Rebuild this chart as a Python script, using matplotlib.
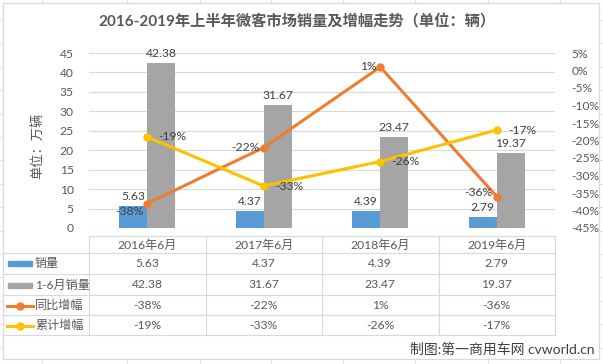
import matplotlib
matplotlib.use('Agg')
import matplotlib.pyplot as plt
from matplotlib.patches import Rectangle
from matplotlib.ticker import FuncFormatter

# ---------------- data ----------------
categories = ['2016年6月', '2017年6月', '2018年6月', '2019年6月']
monthly_sales = [5.63, 4.37, 4.39, 2.79]
ytd_sales = [42.38, 31.67, 23.47, 19.37]
yoy_growth = [-38, -22, 1, -36]
ytd_growth = [-19, -33, -26, -17]
series_names = ['销量', '1-6月销量', '同比增幅', '累计增幅']
left_ticks = list(range(0, 50, 5))
right_ticks = list(range(-45, 10, 5))
title = '2016-2019年上半年微客市场销量及增幅走势（单位：辆）'
ylabel = '单位：万辆'
footer = '制图:第一商用车网 cvworld.cn'

plt.rcParams['font.family'] = ['Lato', 'Noto Sans CJK SC', 'DejaVu Sans']

C_BLUE = '#5B9BD5'
C_GRAY = '#A5A5A5'
C_ORANGE = '#ED7D31'
C_YELLOW = '#FFC000'
C_TXT = '#595959'
C_LBL = '#404040'
C_GRID = '#D9D9D9'

W, H = 603, 364
fig = plt.figure(figsize=(W / 100, H / 100), dpi=100)
fig.patch.set_facecolor('white')

# overlay in pixel coords
ov = fig.add_axes([0, 0, 1, 1], zorder=0)
ov.set_xlim(0, W)
ov.set_ylim(H, 0)
ov.axis('off')

# excel cell gridlines outside chart
for cx in [42, 127, 200, 271, 343, 415, 488, 560]:
    ov.plot([cx, cx], [0, H], color='#E3E3E3', lw=0.8, zorder=0)
ry = 20.0
while ry < H:
    ov.plot([0, W], [ry, ry], color='#E3E3E3', lw=0.8, zorder=0)
    ry += 23.4
ov.add_patch(Rectangle((3, 3), 596, 356, facecolor='white', edgecolor=C_GRID, lw=0.9, zorder=1))

# title, ylabel, footer
ov.text(297, 22, title, ha='center', va='center', fontsize=11, fontweight='bold', color=C_TXT, zorder=3)
ov.text(37, 146, ylabel, ha='center', va='center', rotation=90, fontsize=9.5, color=C_TXT, zorder=3)
ov.text(595, 349, footer, ha='right', va='center', fontsize=10, color=C_LBL, zorder=3)

# ---------------- main axes ----------------
L, R, T, B = 89, 555, 53, 228
ax = fig.add_axes([L / W, 1 - B / H, (R - L) / W, (B - T) / H], zorder=2)
ax.set_facecolor('none')
xs = list(range(len(categories)))
bw = 0.24
ax.bar([i - bw / 2 for i in xs], monthly_sales, bw, color=C_BLUE, zorder=2)
ax.bar([i + bw / 2 for i in xs], ytd_sales, bw, color=C_GRAY, zorder=2)
ax.set_xlim(-0.5, len(categories) - 0.5)
ax.set_ylim(0, 45)
ax.set_yticks(left_ticks)
ax.grid(axis='y', color=C_GRID, lw=0.8)
ax.set_axisbelow(True)
for s in ax.spines.values():
    s.set_visible(False)
ax.set_xticks([])
ax.tick_params(axis='y', length=0, pad=11, labelsize=8.7, labelcolor=C_TXT)

for i, v in enumerate(monthly_sales):
    ax.annotate(f'{v:.2f}', (i - bw / 2, v), xytext=(0, 4), textcoords='offset pixels',
                ha='center', va='bottom', fontsize=8.7, color=C_LBL, zorder=5)
for i, v in enumerate(ytd_sales):
    ax.annotate(f'{v:.2f}', (i + bw / 2, v), xytext=(0, 4), textcoords='offset pixels',
                ha='center', va='bottom', fontsize=8.7, color=C_LBL, zorder=5)

ax2 = ax.twinx()
ax2.set_ylim(-45, 5)
ax2.set_yticks(right_ticks)
ax2.yaxis.set_major_formatter(FuncFormatter(lambda v, p: f'{int(v)}%'))
for s in ax2.spines.values():
    s.set_visible(False)
ax2.tick_params(axis='y', length=0, pad=12, labelsize=8.7, labelcolor=C_TXT)
ax2.plot(xs, yoy_growth, color=C_ORANGE, lw=2.2, marker='o', ms=5, zorder=3)
ax2.plot(xs, ytd_growth, color=C_YELLOW, lw=2.2, marker='o', ms=5, zorder=3)

yoy_dy = [-8, 0, 0, 4]
for i, v in enumerate(yoy_growth):
    ax2.annotate(f'{v}%', (i, v), xytext=(-4, yoy_dy[i]), textcoords='offset pixels',
                 ha='right', va='center', fontsize=8.7, color=C_LBL, zorder=5)
for i, v in enumerate(ytd_growth):
    ax2.annotate(f'{v}%', (i, v), xytext=(11, 0), textcoords='offset pixels',
                 ha='left', va='center', fontsize=8.7, color=C_LBL, zorder=5)

# ---------------- data table ----------------
col_edges = [L + (R - L) * k / 4 for k in range(5)]
row_edges = [236, 252.5, 274, 295, 315, 335]
for cx in col_edges:
    ov.plot([cx, cx], [row_edges[0], row_edges[-1]], color=C_GRID, lw=0.8, zorder=2)
ov.plot([L, R], [row_edges[0], row_edges[0]], color=C_GRID, lw=0.8, zorder=2)
for ry in row_edges[1:]:
    ov.plot([3, R], [ry, ry], color=C_GRID, lw=0.8, zorder=2)

for k, c in enumerate(categories):
    ov.text((col_edges[k] + col_edges[k + 1]) / 2, (row_edges[0] + row_edges[1]) / 2 + 0.5, c,
            ha='center', va='center', fontsize=8.7, color=C_TXT, zorder=3)

rows = [
    [f'{v:.2f}' for v in monthly_sales],
    [f'{v:.2f}' for v in ytd_sales],
    [f'{v}%' for v in yoy_growth],
    [f'{v}%' for v in ytd_growth],
]
for r, vals in enumerate(rows):
    yc = (row_edges[r + 1] + row_edges[r + 2]) / 2 + 0.5
    for k, t in enumerate(vals):
        ov.text((col_edges[k] + col_edges[k + 1]) / 2, yc, t, ha='center', va='center',
                fontsize=8.7, color=C_TXT, zorder=3)
    ov.text(35, yc, series_names[r], ha='left', va='center', fontsize=8.7, color=C_TXT, zorder=3)
    if r == 0:
        ov.add_patch(Rectangle((8, yc - 2.5), 24, 5, color=C_BLUE, zorder=3))
    elif r == 1:
        ov.add_patch(Rectangle((8, yc - 2.5), 24, 5, color=C_GRAY, zorder=3))
    else:
        col = C_ORANGE if r == 2 else C_YELLOW
        ov.plot([7, 33], [yc, yc], color=col, lw=2.2, zorder=3)
        ov.plot([20], [yc], marker='o', ms=5, color=col, zorder=3)

fig.savefig('out.png', dpi=100, facecolor='white')
